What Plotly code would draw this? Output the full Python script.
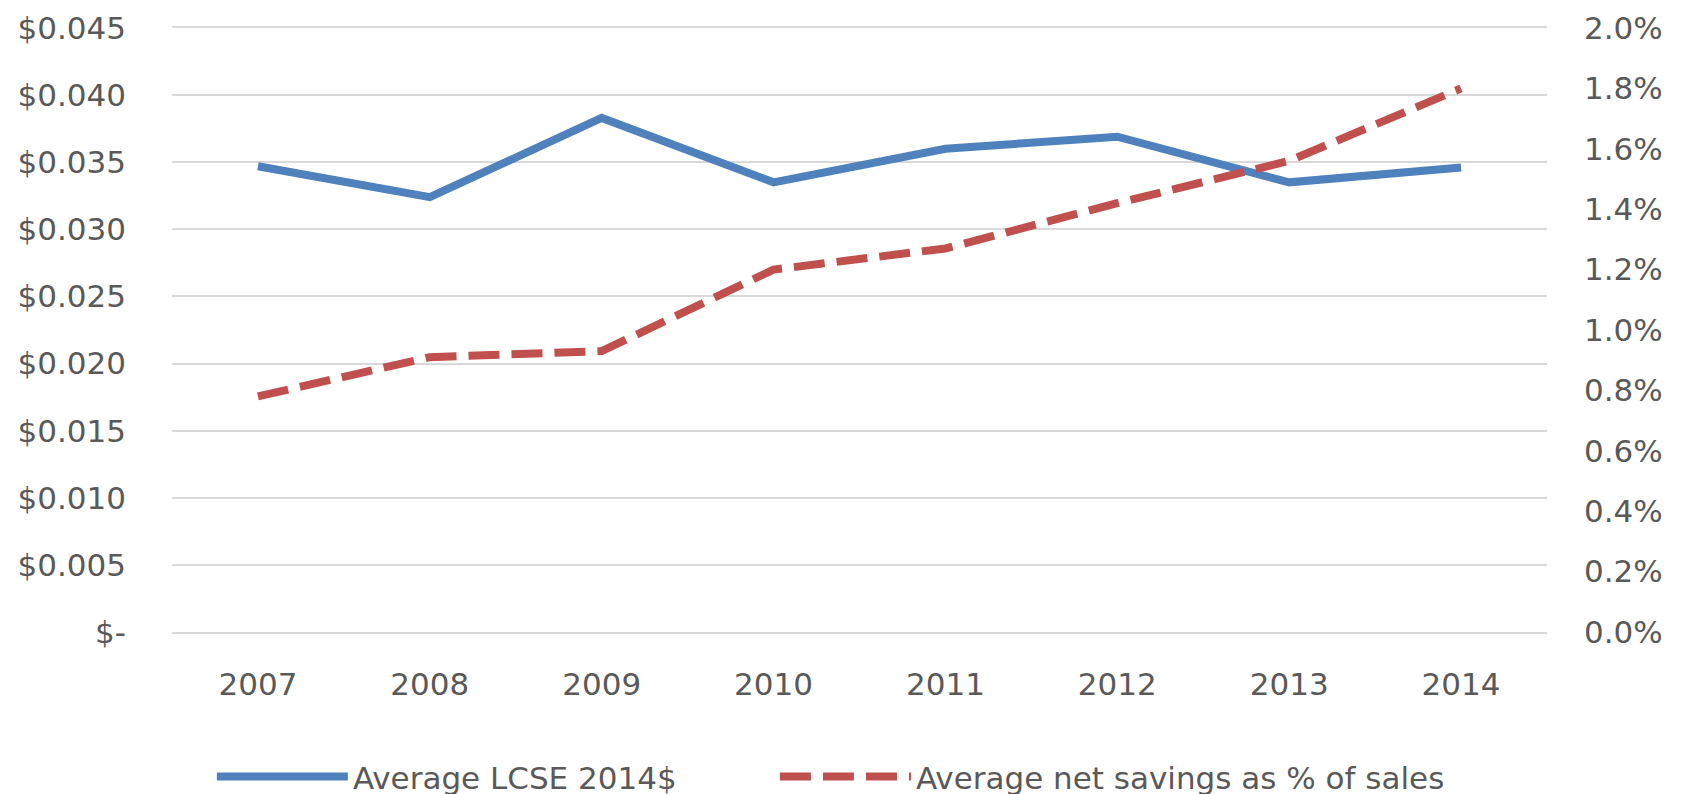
import plotly.graph_objects as go

years = ["2007", "2008", "2009", "2010", "2011", "2012", "2013", "2014"]
lcse = [0.0347, 0.0324, 0.0383, 0.0335, 0.0360, 0.0369, 0.0335, 0.0346]
savings_pct = [0.0078, 0.0091, 0.0093, 0.0120, 0.0127, 0.0142, 0.0156, 0.0180]

left_ticks = [0, 0.005, 0.010, 0.015, 0.020, 0.025, 0.030, 0.035, 0.040, 0.045]
left_labels = ["$-", "$0.005", "$0.010", "$0.015", "$0.020", "$0.025",
               "$0.030", "$0.035", "$0.040", "$0.045"]
right_ticks = [0, 0.002, 0.004, 0.006, 0.008, 0.010, 0.012, 0.014, 0.016, 0.018, 0.020]

font_family = "'DejaVu Sans', sans-serif"
gray = "#595959"
grid = "#d9d9d9"
fs = 31

fig = go.Figure()
fig.add_trace(go.Scatter(
    x=years, y=lcse, mode="lines", name="Average LCSE 2014$",
    line=dict(color="#4f81bd", width=8), yaxis="y", legend="legend"))
fig.add_trace(go.Scatter(
    x=years, y=savings_pct, mode="lines", name="Average net savings as % of sales",
    line=dict(color="#c0504d", width=8, dash="31px,12px"), yaxis="y2",
    legend="legend2"))

legend_common = dict(orientation="h", xanchor="left", y=-0.24, yanchor="middle",
                     font=dict(size=fs, color=gray), itemwidth=131,
                     bgcolor="rgba(0,0,0,0)")

fig.update_layout(
    width=1688, height=794,
    margin=dict(l=164, r=149, t=20, b=170, autoexpand=False),
    paper_bgcolor="white", plot_bgcolor="white",
    font=dict(family=font_family, size=fs, color=gray),
    xaxis=dict(type="category", range=[-0.5, 7.5], showgrid=False,
               showline=True, mirror=True, linecolor=grid, linewidth=2,
               ticks="", zeroline=False, automargin=False,
               tickfont=dict(size=fs, color=gray), ticklabelstandoff=24),
    yaxis=dict(range=[0, 0.045], tickvals=left_ticks, ticktext=left_labels,
               showgrid=True, gridcolor=grid, gridwidth=2,
               zeroline=False, showline=False, ticks="", automargin=False,
               ticklabelstandoff=45, tickfont=dict(size=fs, color=gray)),
    yaxis2=dict(range=[0, 0.02], overlaying="y", side="right",
                tickvals=right_ticks, tickformat=".1%",
                showgrid=False, zeroline=False, showline=False, ticks="",
                automargin=False,
                ticklabelstandoff=36, tickfont=dict(size=fs, color=gray)),
    legend=dict(x=0.029, **legend_common),
    legend2=dict(x=0.4385, **legend_common),
    showlegend=True,
)

fig.write_html("out.html")
